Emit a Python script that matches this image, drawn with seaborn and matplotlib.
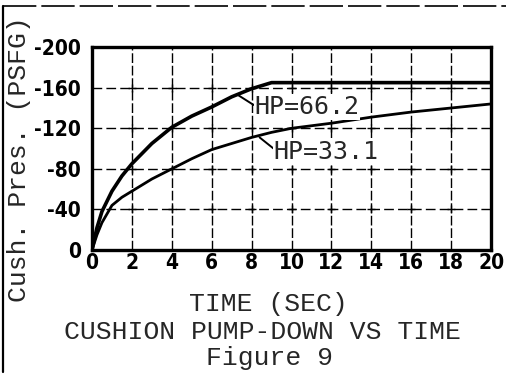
import matplotlib
matplotlib.use("Agg")
import matplotlib.pyplot as plt
from matplotlib.lines import Line2D
import seaborn as sns
import pandas as pd
import numpy as np

# Cushion pressure (PSFG) against time (sec) for two pump powers
time_hp66 = [0, 0.25, 0.5, 1, 1.5, 2, 3, 4, 5, 6, 7, 8, 9, 10, 12, 14, 16, 18, 20]
pres_hp66 = [0, -22, -38, -58, -73, -85, -105, -121, -132, -141, -151, -159, -165,
             -165, -165, -165, -165, -165, -165]
time_hp33 = [0, 0.25, 0.5, 1, 1.5, 2, 3, 4, 5, 6, 7, 8, 9, 10, 12, 14, 16, 18, 20]
pres_hp33 = [0, -15, -27, -44, -52, -58, -70, -80, -90, -99, -105, -111, -116,
             -120, -125, -131, -136, -140, -144]

x_ticks = [0, 2, 4, 6, 8, 10, 12, 14, 16, 18, 20]
y_ticks = [0, -40, -80, -120, -160, -200]
y_tick_labels = ["0", "-40", "-80", "-120", "-160", "-200"]

df = pd.concat([
    pd.DataFrame({"t": time_hp66, "p": pres_hp66, "hp": "66.2"}),
    pd.DataFrame({"t": time_hp33, "p": pres_hp33, "hp": "33.1"}),
])

sns.set_theme(style="white")
mono = ["Liberation Mono", "DejaVu Sans Mono"]

fig = plt.figure(figsize=(5.11, 3.80), dpi=100)
ax = fig.add_axes([0.180, 0.342, 0.781, 0.534])

# grid: dashed lines with small crosses at the intersections
for xv in x_ticks[1:-1]:
    ax.axvline(xv, color="black", lw=1.0, ls=(0, (7, 2)), zorder=1)
for yv in y_ticks[1:-1]:
    ax.axhline(yv, color="black", lw=1.0, ls=(0, (7, 3)), zorder=1)
gx, gy = np.meshgrid(x_ticks[1:-1], y_ticks[1:-1])
ax.scatter(gx.ravel(), gy.ravel(), marker="+", s=30, color="black", lw=1.0, zorder=2)

sns.lineplot(data=df[df.hp == "66.2"], x="t", y="p", color="black", lw=2.6,
             ax=ax, legend=False, zorder=3)
sns.lineplot(data=df[df.hp == "33.1"], x="t", y="p", color="black", lw=2.0,
             ax=ax, legend=False, zorder=3)

ax.set_xlim(0, 20)
ax.set_ylim(0, -200)
tick_font = dict(fontsize=15, fontweight="bold", family="DejaVu Sans",
                 fontstretch="condensed")
ax.set_xticks(x_ticks)
ax.set_xticklabels([str(v) for v in x_ticks], **tick_font)
ax.set_yticks(y_ticks)
ax.set_yticklabels(y_tick_labels, **tick_font)
ax.tick_params(axis="both", length=0, colors="black")
ax.tick_params(axis="y", pad=8)
ax.tick_params(axis="x", pad=2)
ax.set_xlabel("")
ax.set_ylabel("")
for sp in ax.spines.values():
    sp.set_color("black")
    sp.set_linewidth(2.4)

# curve labels with leader lines
ax.plot([7.3, 8.1], [-153, -143], color="black", lw=1.4, zorder=3)
ax.text(8.15, -141, "HP=66.2", fontsize=18, family=["DejaVu Sans Mono"],
        va="center", ha="left", zorder=4,
        bbox=dict(facecolor="white", edgecolor="none", pad=0.5))
ax.plot([8.4, 9.1], [-111, -100], color="black", lw=1.4, zorder=3)
ax.text(9.1, -97, "HP=33.1", fontsize=18, family=["DejaVu Sans Mono"],
        va="center", ha="left", zorder=4,
        bbox=dict(facecolor="white", edgecolor="none", pad=0.5))

fig.text(19 / 511, 1 - 159 / 380, "Cush. Pres. (PSFG)", rotation=90,
         fontsize=19, family=mono, ha="center", va="center")
fig.text(268 / 511, 1 - 304 / 380, "TIME (SEC)", fontsize=19, family=mono,
         ha="center", va="center")
fig.text(262 / 511, 1 - 332 / 380, "CUSHION PUMP-DOWN VS TIME", fontsize=19,
         family=mono, ha="center", va="center")
fig.text(270 / 511, 1 - 358 / 380, "Figure 9", fontsize=19, family=mono,
         ha="center", va="center")

# page frame edges
fig.add_artist(Line2D([3 / 511, 3 / 511], [0.02, 0.985], color="black", lw=1.6,
                      transform=fig.transFigure))
fig.add_artist(Line2D([3 / 511, 0.99], [0.985, 0.985], color="black", lw=1.2,
                      ls=(0, (20, 3)), transform=fig.transFigure))

fig.savefig("out.png", dpi=100)
